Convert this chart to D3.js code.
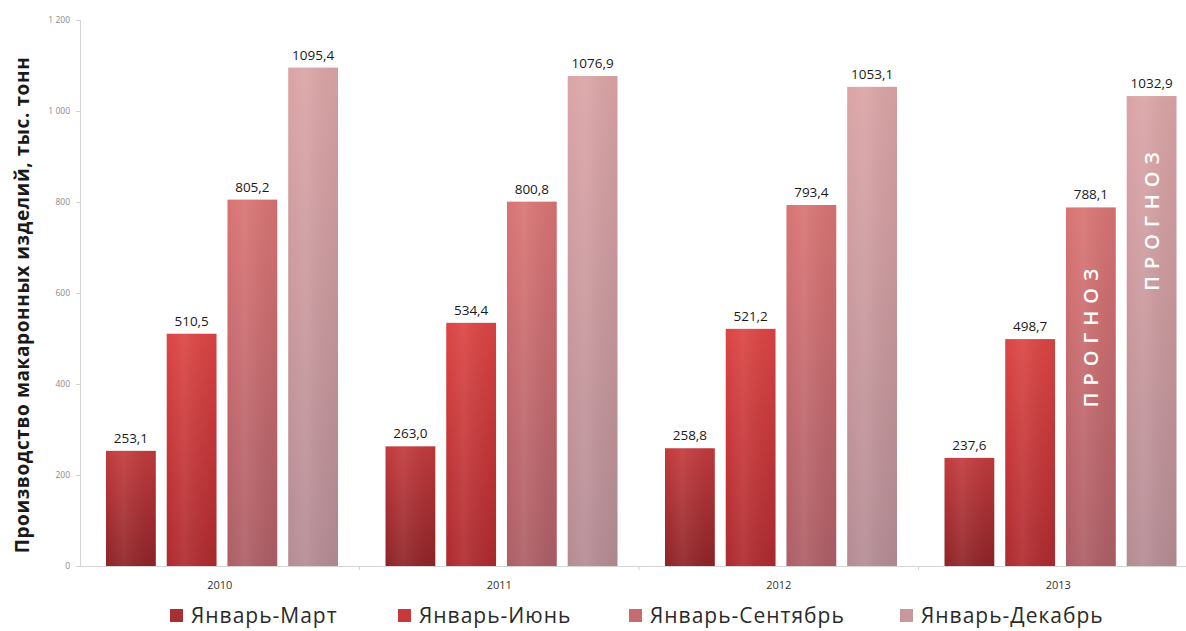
<!DOCTYPE html>
<html>
<head>
<meta charset="utf-8">
<script src="https://cdn.jsdelivr.net/npm/d3@7"></script>
<style>
  html, body { margin: 0; padding: 0; background: #fff; }
  svg { display: block; }
</style>
</head>
<body>
<svg id="chart" width="1186" height="631"></svg>
<script>
// Production of pasta, thousand tonnes, cumulative by period of the year
const years = ["2010", "2011", "2012", "2013"];
const periods = ["Январь-Март", "Январь-Июнь", "Январь-Сентябрь", "Январь-Декабрь"];
const janMar = [253.1, 263.0, 258.8, 237.6];
const janJun = [510.5, 534.4, 521.2, 498.7];
const janSep = [805.2, 800.8, 793.4, 788.1];
const janDec = [1095.4, 1076.9, 1053.1, 1032.9];
const yTicks = [0, 200, 400, 600, 800, 1000, 1200];
const forecastLabel = "ПРОГНОЗ";
const forecastYear = "2013";
const forecastPeriods = ["Январь-Сентябрь", "Январь-Декабрь"];
const yTitle = "Производство макаронных изделий, тыс. тонн";

const series = [janMar, janJun, janSep, janDec];
// [top colour, bottom colour] per series
const palette = [
  ["#c23a3c", "#8e2327"],
  ["#dc4444", "#ae2a2e"],
  ["#d97373", "#ad5e66"],
  ["#dba4a6", "#b58c93"]
];
const legendColors = ["#a83034", "#c9393c", "#c66c70", "#c9979c"];

const svg = d3.select("#chart");
const margin = { left: 80, right: -12, top: 20, bottom: 65 };
const W = 1186, H = 631;

const x0 = d3.scaleBand().domain(years).range([margin.left, W - margin.right]).paddingInner(0).paddingOuter(0);
const x1 = d3.scaleBand().domain(periods).range([26, 26 + 232]).paddingInner(0.18).paddingOuter(0);
const y = d3.scaleLinear().domain([0, 1200]).range([H - margin.bottom, margin.top]);

const fmt = v => d3.format(".1f")(v).replace(".", ",");
const tickFmt = v => v >= 1000 ? d3.format(",")(v).replace(",", " ") : String(v);

// gradients
const defs = svg.append("defs");
palette.forEach((c, i) => {
  const g = defs.append("linearGradient").attr("id", "g" + i)
    .attr("x1", 0).attr("y1", 0).attr("x2", 0).attr("y2", 1);
  g.append("stop").attr("offset", "0%").attr("stop-color", c[0]);
  g.append("stop").attr("offset", "100%").attr("stop-color", c[1]);
  const h = defs.append("linearGradient").attr("id", "h" + i)
    .attr("x1", 0).attr("y1", 0).attr("x2", 1).attr("y2", 0);
  h.append("stop").attr("offset", "0%").attr("stop-color", "#fff").attr("stop-opacity", 0.0);
  h.append("stop").attr("offset", "35%").attr("stop-color", "#fff").attr("stop-opacity", 0.08);
  h.append("stop").attr("offset", "100%").attr("stop-color", "#000").attr("stop-opacity", 0.04);
});

// y axis
const yAxis = d3.axisLeft(y).tickValues(yTicks).tickSize(4).tickFormat(tickFmt);
const gy = svg.append("g").attr("transform", `translate(${margin.left},0)`).call(yAxis);
gy.select(".domain").attr("stroke", "#d4d4d4");
gy.selectAll(".tick line").attr("stroke", "#d4d4d4");
gy.selectAll(".tick text").attr("fill", "#8a8a8a").attr("font-size", 8.5)
  .attr("font-family", "Open Sans, sans-serif").attr("x", -10);

// x axis
const xAxis = d3.axisBottom(x0).tickSize(0).tickPadding(15);
const gx = svg.append("g").attr("transform", `translate(0,${y(0)})`).call(xAxis);
gx.select(".domain").attr("stroke", "#d4d4d4");
gx.selectAll(".tick text").attr("fill", "#333").attr("font-size", 11)
  .attr("font-family", "Open Sans, sans-serif");
gx.selectAll(".sep").data(years.slice(1)).enter().append("line")
  .attr("x1", d => x0(d)).attr("x2", d => x0(d)).attr("y1", 0).attr("y2", 4)
  .attr("stroke", "#d4d4d4");

// bars
const groups = svg.append("g").selectAll("g").data(years).enter().append("g")
  .attr("transform", d => `translate(${x0(d)},0)`);

groups.each(function (yr, yi) {
  const g = d3.select(this);
  periods.forEach((p, si) => {
    const v = series[si][yi];
    const bx = x1(p), bw = x1.bandwidth();
    g.append("rect").attr("x", bx).attr("y", y(v)).attr("width", bw)
      .attr("height", y(0) - y(v)).attr("fill", `url(#g${si})`);
    g.append("rect").attr("x", bx).attr("y", y(v)).attr("width", bw)
      .attr("height", y(0) - y(v)).attr("fill", `url(#h${si})`);
    g.append("text").attr("x", bx + bw / 2).attr("y", y(v) - 8)
      .attr("text-anchor", "middle").attr("font-size", 13.5)
      .attr("font-family", "Open Sans, sans-serif").attr("fill", "#1a1a1a")
      .text(fmt(v));
    if (yr === forecastYear && forecastPeriods.includes(p)) {
      const cx = bx + bw / 2;
      const cy = si === 2 ? y(v) + 127 : y(v) + 122;
      g.append("text").attr("transform", `translate(${cx},${cy}) rotate(-90)`)
        .attr("text-anchor", "middle").attr("dy", "0.36em").attr("fill", "#fff")
        .attr("font-size", 20).attr("font-weight", 600)
        .attr("letter-spacing", 7)
        .attr("font-family", "Open Sans, sans-serif")
        .text(forecastLabel);
    }
  });
});

// y title
svg.append("text").attr("transform", `translate(29,305) rotate(-90)`)
  .attr("text-anchor", "middle").attr("font-size", 19).attr("font-weight", 700)
  .attr("letter-spacing", 0.6)
  .attr("font-family", "Open Sans, sans-serif").attr("fill", "#1a1a1a")
  .text(yTitle);

// legend
const legendX = [170, 398, 629, 900];
const legend = svg.append("g").selectAll("g").data(periods).enter().append("g")
  .attr("transform", (d, i) => `translate(${legendX[i]},615)`);
legend.append("rect").attr("x", 0).attr("y", -6).attr("width", 13).attr("height", 13)
  .attr("fill", (d, i) => legendColors[i]);
legend.append("text").attr("x", 21).attr("y", 0).attr("dy", "0.36em")
  .attr("font-size", 21).attr("letter-spacing", 1).attr("font-family", "Open Sans, sans-serif")
  .attr("fill", "#2a2a2a").text(d => d);
</script>
</body>
</html>
